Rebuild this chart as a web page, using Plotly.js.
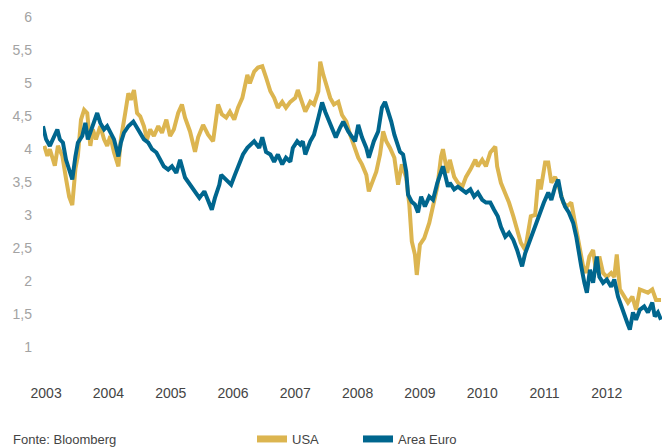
<!DOCTYPE html>
<html>
<head>
<meta charset="utf-8">
<script src="https://cdn.plot.ly/plotly-3.0.1.min.js"></script>
<style>
  html, body { margin: 0; padding: 0; background: #fff; }
  #chart { width: 662px; height: 448px; }
</style>
</head>
<body>
<div id="chart"></div>
<script>
// 10y yields (%), x in decimal years
const usaYears = [2002.97, 2003.02, 2003.06, 2003.11, 2003.14, 2003.19, 2003.26, 2003.32, 2003.37, 2003.42, 2003.47, 2003.51, 2003.56, 2003.61, 2003.66, 2003.71, 2003.75, 2003.80, 2003.87, 2003.93, 2003.98,
  2004.03, 2004.09, 2004.16, 2004.20, 2004.27, 2004.32, 2004.36, 2004.41, 2004.46, 2004.51, 2004.57, 2004.62, 2004.67, 2004.73, 2004.80, 2004.86, 2004.93, 2004.99,
  2005.05, 2005.12, 2005.18, 2005.23, 2005.31, 2005.39, 2005.44, 2005.52, 2005.60, 2005.68, 2005.76, 2005.82, 2005.89, 2005.95,
  2006.02, 2006.08, 2006.15, 2006.23, 2006.27, 2006.34, 2006.40, 2006.47, 2006.53, 2006.60, 2006.66, 2006.72, 2006.79, 2006.85, 2006.92,
  2007.00, 2007.04, 2007.11, 2007.16, 2007.24, 2007.30, 2007.37, 2007.40, 2007.45, 2007.49, 2007.56, 2007.62, 2007.69, 2007.75, 2007.82, 2007.88, 2007.94,
  2008.01, 2008.07, 2008.14, 2008.18, 2008.23, 2008.30, 2008.36, 2008.41, 2008.46, 2008.52, 2008.59, 2008.65, 2008.71, 2008.78, 2008.83, 2008.87, 2008.92, 2008.95,
  2009.00, 2009.07, 2009.15, 2009.21, 2009.28, 2009.34, 2009.37, 2009.44, 2009.48, 2009.55, 2009.61, 2009.68, 2009.74, 2009.81, 2009.89, 2009.93,
  2010.00, 2010.06, 2010.13, 2010.21, 2010.24, 2010.30, 2010.37, 2010.43, 2010.50, 2010.58, 2010.62, 2010.69, 2010.72, 2010.78, 2010.85, 2010.90, 2010.94,
  2011.01, 2011.06, 2011.11, 2011.17, 2011.23, 2011.30, 2011.36, 2011.43, 2011.47, 2011.52, 2011.57, 2011.62, 2011.67, 2011.72, 2011.78, 2011.83, 2011.88, 2011.94,
  2012.00, 2012.07, 2012.12, 2012.16, 2012.21, 2012.28, 2012.34, 2012.41, 2012.47, 2012.53, 2012.60, 2012.66, 2012.73, 2012.79, 2012.87];
const usaYield = [4.05, 3.9, 4.0, 3.85, 3.75, 4.05, 3.9, 3.55, 3.28, 3.15, 3.7, 3.9, 4.45, 4.6, 4.55, 4.05, 4.3, 4.15, 4.35, 4.15, 4.05,
  4.2, 3.95, 3.74, 4.15, 4.55, 4.85, 4.75, 4.9, 4.55, 4.5, 4.35, 4.15, 4.3, 4.2, 4.35, 4.25, 4.45, 4.2,
  4.3, 4.55, 4.68, 4.48, 4.27, 3.96, 4.18, 4.37, 4.22, 4.12, 4.68, 4.53, 4.48, 4.57,
  4.45, 4.63, 4.78, 5.13, 5.0, 5.18, 5.24, 5.26, 5.09, 4.88, 4.78, 4.63, 4.72, 4.63, 4.72,
  4.78, 4.9, 4.72, 4.57, 4.72, 4.68, 4.88, 5.33, 5.13, 4.98, 4.78, 4.68, 4.72, 4.52, 4.42, 4.22, 4.07,
  3.87, 3.77, 3.61, 3.36, 3.5, 3.66, 3.92, 4.27, 4.12, 4.02, 3.87, 3.46, 3.77, 3.57, 3.16, 2.6, 2.4, 2.09,
  2.55, 2.65, 2.88, 3.13, 3.43, 3.89, 4.0, 3.64, 3.84, 3.58, 3.49, 3.43, 3.58, 3.69, 3.84, 3.74,
  3.84, 3.74, 3.95, 4.04, 3.74, 3.49, 3.34, 3.19, 2.98, 2.73, 2.58, 2.47, 2.67, 2.98, 3.0, 3.54, 3.39,
  3.8, 3.8, 3.49, 3.58, 3.43, 3.19, 3.13, 3.19, 2.98, 2.73, 2.47, 2.22, 2.12, 2.37, 2.47, 2.12, 2.37, 2.12,
  2.06, 2.12, 2.06, 2.4, 1.87, 1.76, 1.67, 1.76, 1.56, 1.87, 1.85, 1.82, 1.87, 1.71, 1.71];

const euroYears = [2002.95, 2003.00, 2003.06, 2003.11, 2003.18, 2003.22, 2003.27, 2003.32, 2003.39, 2003.42, 2003.47, 2003.51, 2003.58, 2003.63, 2003.67, 2003.74, 2003.82, 2003.87, 2003.93, 2003.98,
  2004.03, 2004.09, 2004.16, 2004.20, 2004.25, 2004.32, 2004.40, 2004.44, 2004.51, 2004.57, 2004.64, 2004.70, 2004.77, 2004.83, 2004.89, 2004.96,
  2005.02, 2005.09, 2005.15, 2005.23, 2005.31, 2005.39, 2005.46, 2005.54, 2005.58, 2005.66, 2005.71, 2005.78, 2005.81, 2005.91, 2005.97,
  2006.03, 2006.10, 2006.16, 2006.23, 2006.29, 2006.34, 2006.42, 2006.47, 2006.53, 2006.60, 2006.66, 2006.72, 2006.79, 2006.85, 2006.92, 2006.96,
  2007.03, 2007.08, 2007.12, 2007.16, 2007.24, 2007.30, 2007.37, 2007.43, 2007.48, 2007.54, 2007.61, 2007.65, 2007.72, 2007.77, 2007.85, 2007.91, 2007.96,
  2008.01, 2008.07, 2008.14, 2008.18, 2008.26, 2008.33, 2008.39, 2008.44, 2008.49, 2008.54, 2008.59, 2008.63, 2008.68, 2008.73, 2008.78, 2008.81, 2008.87, 2008.92, 2008.97,
  2009.02, 2009.08, 2009.15, 2009.21, 2009.28, 2009.37, 2009.42, 2009.45, 2009.48, 2009.55, 2009.61, 2009.68, 2009.74, 2009.81, 2009.87, 2009.93,
  2010.00, 2010.06, 2010.13, 2010.19, 2010.25, 2010.30, 2010.37, 2010.43, 2010.50, 2010.56, 2010.64, 2010.69, 2010.75, 2010.82, 2010.88, 2010.94, 2010.99,
  2011.06, 2011.11, 2011.17, 2011.22, 2011.27, 2011.33, 2011.39, 2011.46, 2011.51, 2011.55, 2011.59, 2011.64, 2011.68, 2011.73, 2011.78, 2011.84, 2011.88, 2011.94,
  2012.00, 2012.07, 2012.12, 2012.18, 2012.23, 2012.28, 2012.33, 2012.37, 2012.42, 2012.47, 2012.53, 2012.60, 2012.66, 2012.73, 2012.77, 2012.82, 2012.87];
const euroYield = [4.35, 4.15, 4.05, 4.15, 4.3, 4.15, 4.1, 3.84, 3.64, 3.54, 3.89, 4.1, 4.2, 4.4, 4.15, 4.35, 4.55, 4.4, 4.3, 4.35,
  4.25, 4.15, 3.89, 4.1, 4.25, 4.35, 4.42, 4.35, 4.25, 4.15, 4.1, 4.0, 3.95, 3.84, 3.74, 3.69,
  3.74, 3.64, 3.84, 3.57, 3.46, 3.36, 3.26, 3.36, 3.26, 3.08, 3.26, 3.46, 3.61, 3.51, 3.46,
  3.61, 3.77, 3.92, 4.02, 4.07, 4.12, 4.02, 4.18, 3.96, 3.92, 3.81, 3.92, 3.77, 3.87, 3.81, 4.02,
  4.12, 4.07, 4.12, 3.92, 4.12, 4.22, 4.48, 4.71, 4.57, 4.42, 4.27, 4.18, 4.33, 4.42, 4.27, 4.18, 4.12,
  4.37, 4.18, 4.02, 3.87, 4.12, 4.27, 4.63, 4.72, 4.57, 4.42, 4.22, 4.12, 3.96, 3.92, 3.66, 3.31, 3.2, 3.16, 3.04,
  3.28, 3.13, 3.28, 3.23, 3.49, 3.74, 3.55, 3.43, 3.49, 3.39, 3.43, 3.39, 3.34, 3.39, 3.28, 3.34,
  3.23, 3.19, 3.19, 3.08, 2.98, 2.82, 2.67, 2.73, 2.62, 2.47, 2.22, 2.42, 2.58, 2.73, 2.93, 3.08, 3.19,
  3.34, 3.23, 3.43, 3.54, 3.28, 3.13, 3.04, 2.88, 2.67, 2.42, 2.22, 1.97, 1.82, 2.17, 1.97, 2.37, 2.06, 1.97,
  2.02, 1.91, 2.02, 1.76, 1.61, 1.46, 1.36, 1.26, 1.52, 1.41, 1.56, 1.61, 1.52, 1.67, 1.46, 1.52, 1.41];

const yearTicks = [2003, 2004, 2005, 2006, 2007, 2008, 2009, 2010, 2011, 2012];
const yieldTicks = [1, 1.5, 2, 2.5, 3, 3.5, 4, 4.5, 5, 5.5, 6];

const gold = 'rgb(220,181,80)';
const blue = 'rgb(0,102,142)';
const font = 'Liberation Sans, Arial, sans-serif';

var data = [
    { x: usaYears, y: usaYield, type: 'scatter', mode: 'lines', name: 'USA',
      line: { color: gold, width: 4 }, showlegend: false, hoverinfo: 'skip' },
    { x: euroYears, y: euroYield, type: 'scatter', mode: 'lines', name: 'Area Euro',
      line: { color: blue, width: 4 }, showlegend: false, hoverinfo: 'skip' },
    // legend swatches only
    { x: [null], y: [null], type: 'scatter', mode: 'lines', name: 'USA', line: { color: gold, width: 7 } },
    { x: [null], y: [null], type: 'scatter', mode: 'lines', name: 'Area Euro', line: { color: blue, width: 7 } }
];

var layout = {
    width: 662,
    height: 448,
    margin: { l: 43, r: 0, t: 11, b: 75 },
    paper_bgcolor: '#fff',
    plot_bgcolor: '#fff',
    separators: ', ',
    font: { family: font, size: 13, color: '#444' },
    xaxis: {
        range: [2002.95, 2012.886],
        tickvals: yearTicks,
        ticktext: yearTicks.map(String),
        showgrid: false, zeroline: false, showline: false,
        ticks: '', ticklabelstandoff: 10,
        tickfont: { family: font, size: 14, color: '#444' }
    },
    yaxis: {
        range: [0.6, 6.1],
        tickvals: yieldTicks,
        showgrid: false, zeroline: false, showline: false,
        ticks: '', ticklabelstandoff: 10,
        tickfont: { family: font, size: 14, color: '#a3a3a3' }
    },
    showlegend: true,
    legend: {
        orientation: 'h',
        xref: 'container', yref: 'container',
        x: 252 / 662, y: 9 / 448, xanchor: 'left', yanchor: 'middle',
        entrywidth: 61, itemwidth: 30,
        font: { family: font, size: 13, color: '#444' },
        bgcolor: 'rgba(0,0,0,0)'
    },
    annotations: [{
        text: 'Fonte: Bloomberg', xref: 'paper', yref: 'paper',
        x: -32 / 619, y: -66 / 362, xanchor: 'left', yanchor: 'middle',
        showarrow: false, font: { family: font, size: 13, color: '#444' }
    }]
};

Plotly.newPlot('chart', data, layout, { displayModeBar: false, staticPlot: true });
</script>
</body>
</html>
